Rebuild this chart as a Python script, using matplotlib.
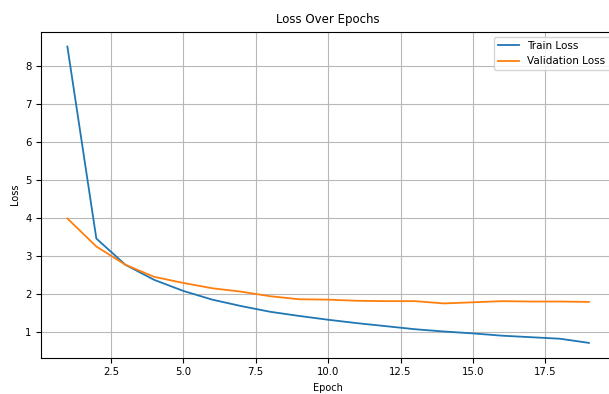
import matplotlib
matplotlib.use("Agg")
import matplotlib.pyplot as plt

epochs = list(range(1, 20))
train_loss = [8.52, 3.46, 2.77, 2.37, 2.08, 1.85, 1.68, 1.53, 1.42, 1.32,
              1.23, 1.15, 1.07, 1.01, 0.96, 0.90, 0.86, 0.82, 0.71]
val_loss = [3.99, 3.25, 2.77, 2.45, 2.29, 2.15, 2.06, 1.94, 1.86, 1.85,
            1.82, 1.81, 1.81, 1.75, 1.78, 1.81, 1.80, 1.80, 1.79]

fig = plt.figure(figsize=(6.09, 3.94), dpi=100)
ax = fig.add_axes([0.0678, 0.0921, 0.942, 0.8274])
ax.plot(epochs, train_loss, label="Train Loss", color="#1f77b4", linewidth=1.3)
ax.plot(epochs, val_loss, label="Validation Loss", color="#ff7f0e", linewidth=1.3)
ax.set_title("Loss Over Epochs", fontsize=8.5)
ax.set_xlabel("Epoch", fontsize=7)
ax.set_ylabel("Loss", fontsize=7)
ax.tick_params(labelsize=7.3)
ax.grid(True, color="#b8b8b8")
ax.legend(loc="upper right", fontsize=7.5)
fig.savefig("out.png", dpi=100)
